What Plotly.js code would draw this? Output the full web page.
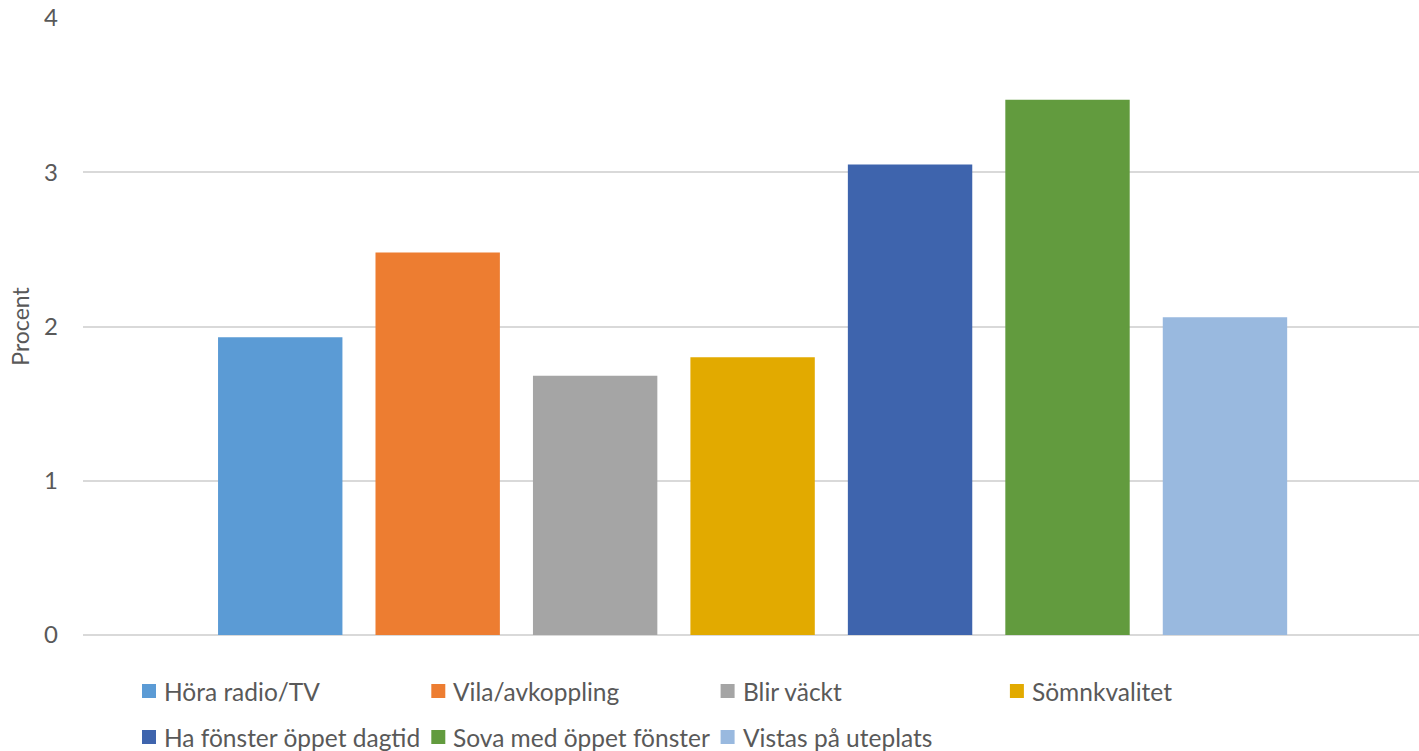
<!DOCTYPE html>
<html>
<head>
<meta charset="utf-8">
<script src="https://cdn.plot.ly/plotly-3.0.1.min.js"></script>
<style>html,body{margin:0;padding:0;background:#fff;}#chart{width:1419px;height:751px;}</style>
</head>
<body>
<div id="chart"></div>
<script>
const seriesNames = ["Höra radio/TV", "Vila/avkoppling", "Blir väckt", "Sömnkvalitet", "Ha fönster öppet dagtid", "Sova med öppet fönster", "Vistas på uteplats"];
const seriesValues = [1.93, 2.48, 1.68, 1.80, 3.05, 3.47, 2.06];
const seriesColors = ["#5b9bd5", "#ed7d31", "#a5a5a5", "#e2aa00", "#3e64ad", "#629b3e", "#99b9df"];
const category = [""];
const yTicks = [0, 1, 2, 3, 4];

const FONT = "Lato, 'Open Sans', sans-serif";
const TXT = "#595959";

// plot area geometry (pixels)
const W = 1419, H = 751;
const M = {l: 83, r: 0, t: 18, b: 116};
const PW = W - M.l - M.r, PH = H - M.t - M.b;
const px = v => (v - M.l) / PW;          // pixel x -> paper x
const py = v => (H - M.b - v) / PH;      // pixel y -> paper y

const traces = seriesNames.map((name, i) => ({
  type: "bar",
  name: name,
  x: category,
  y: [seriesValues[i]],
  marker: {color: seriesColors[i], line: {width: 0}},
  hoverinfo: "name+y",
  showlegend: false
}));

// custom legend laid out like the reference (4 + 3 items)
const legendCols = 4, colStart = 142, colStep = 289.3, rowY = [691, 737], sq = 14;
const shapes = [], annotations = [];
seriesNames.forEach((name, i) => {
  const c = i % legendCols, r = Math.floor(i / legendCols);
  const x0 = colStart + c * colStep, yc = rowY[r];
  shapes.push({
    type: "rect", xref: "paper", yref: "paper",
    x0: px(x0), x1: px(x0 + sq), y0: py(yc + sq / 2), y1: py(yc - sq / 2),
    fillcolor: seriesColors[i], line: {width: 0}
  });
  annotations.push({
    xref: "paper", yref: "paper", x: px(x0 + sq + 6), y: py(yc),
    xanchor: "left", yanchor: "middle", showarrow: false,
    text: name, font: {family: FONT, size: 24.5, color: TXT}
  });
});

const layout = {
  width: W, height: H,
  margin: M,
  paper_bgcolor: "#ffffff", plot_bgcolor: "#ffffff",
  font: {family: FONT, size: 24, color: TXT},
  barmode: "group",
  bargap: 0.175,
  bargroupgap: 0.21,
  showlegend: false,
  shapes: shapes,
  annotations: annotations,
  xaxis: {
    range: [-0.5012, 0.4988],
    showticklabels: false, showgrid: false, zeroline: false,
    showline: false, ticks: "", fixedrange: true
  },
  yaxis: {
    range: [0, 4],
    tickvals: yTicks,
    ticktext: yTicks.map(String),
    showgrid: true, gridcolor: "#d9d9d9", gridwidth: 1.5,
    zeroline: true, zerolinecolor: "#d9d9d9", zerolinewidth: 1.5,
    showline: false, ticks: "",
    ticklabelstandoff: 24,
    tickfont: {family: FONT, size: 24, color: TXT},
    title: {text: "Procent", font: {family: FONT, size: 23, color: TXT}, standoff: 8},
    fixedrange: true
  }
};

Plotly.newPlot("chart", traces, layout, {displayModeBar: false});
</script>
</body>
</html>
